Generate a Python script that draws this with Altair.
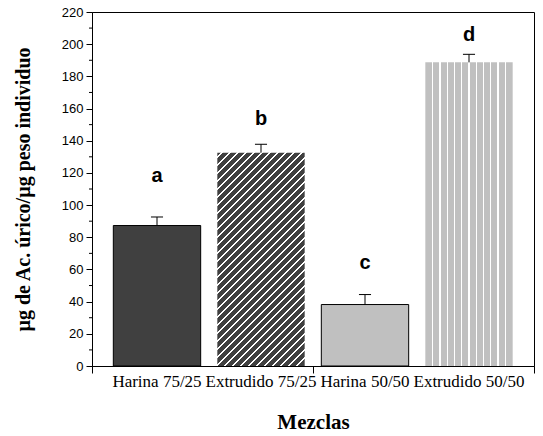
import altair as alt
import pandas as pd

# ---- data ----
categories = ["Harina 75/25", "Extrudido 75/25", "Harina 50/50", "Extrudido 50/50"]
positions = [1, 2, 3, 4]
means = [87.3, 132.6, 38.2, 188.7]
errors = [5.3, 5.2, 6.2, 5.0]
letters = ["a", "b", "c", "d"]
letter_heights = [118.0, 153.8, 64.0, 205.5]
y_major = list(range(0, 221, 20))
y_minor = list(range(10, 220, 20))
x_ticks = [0.375, 2.5, 4.625]

df = pd.DataFrame({
    "category": categories,
    "pos": positions,
    "mean": means,
    "err": errors,
    "letter": letters,
    "letter_y": letter_heights,
})

# ---- layout / style ----
PLOT_W, PLOT_H = 442, 354
X_DOM = [0.375, 4.625]
Y_DOM = [0, 220]
HALF = 0.42     # half bar width, x units
CAP = 0.058     # half cap width, x units
DARK = "#404040"
LIGHT = "#c0c0c0"

x_scale = alt.Scale(domain=X_DOM, nice=False, zero=False)
y_scale = alt.Scale(domain=Y_DOM, nice=False)

px_per_x = PLOT_W / (X_DOM[1] - X_DOM[0])
px_per_y = PLOT_H / (Y_DOM[1] - Y_DOM[0])

# diagonal stripes "/" for bar 2 (objectBoundingBox gradient)
W = 2 * HALF * px_per_x
H = means[1] * px_per_y
S = W + H
ex = W * S / (W * W + H * H)
ey = H * S / (W * W + H * H)
stops = [alt.GradientStop(color=DARK, offset=0)]
period, lw = 8.0, 1.6
c = 4.0
while c + lw < S:
    a, b = c / S, (c + lw) / S
    stops += [alt.GradientStop(color=DARK, offset=a), alt.GradientStop(color="white", offset=a),
              alt.GradientStop(color="white", offset=b), alt.GradientStop(color=DARK, offset=b)]
    c += period
stops.append(alt.GradientStop(color=DARK, offset=1))
diag_fill = alt.LinearGradient(gradient="linear", stops=stops, x1=0, y1=0, x2=ex, y2=ey)

# vertical stripes for bar 4
ncol = 12
vw = 1.3 / W
vstops = [alt.GradientStop(color=LIGHT, offset=0)]
for i in range(1, ncol):
    a, b = i / ncol - vw / 2, i / ncol + vw / 2
    vstops += [alt.GradientStop(color=LIGHT, offset=a), alt.GradientStop(color="white", offset=a),
               alt.GradientStop(color="white", offset=b), alt.GradientStop(color=LIGHT, offset=b)]
vstops.append(alt.GradientStop(color=LIGHT, offset=1))
vert_fill = alt.LinearGradient(gradient="linear", stops=vstops, x1=0, y1=0, x2=1, y2=0)

x_axis = alt.Axis(values=x_ticks, labels=False, tickSize=7, grid=False,
                  title="Mezclas", titleFont="Liberation Serif", titleFontSize=21,
                  titleFontWeight="bold", titleColor="black", titleY=62,
                  titleBaseline="alphabetic")
y_axis = alt.Axis(values=y_major, tickSize=6, grid=False, labelFont="Liberation Sans",
                  labelFontSize=13, labelPadding=3, labelColor="black",
                  title="µg de Ac. úrico/µg peso individuo", titleFont="Liberation Serif",
                  titleFontSize=20, titleFontWeight="bold", titleColor="black",
                  titleAngle=-90, titleX=-63, titleY=PLOT_H / 2, titleAlign="center",
                  titleBaseline="alphabetic")


def X(field):
    return alt.X(field, scale=x_scale, axis=x_axis)


def Y(field):
    return alt.Y(field, scale=y_scale, axis=y_axis)


base = alt.Chart(df).transform_calculate(
    x_lo=f"datum.pos - {HALF}", x_hi=f"datum.pos + {HALF}",
    top="datum.mean + datum.err",
    c_lo=f"datum.pos - {CAP}", c_hi=f"datum.pos + {CAP}",
)

fills = [DARK, diag_fill, LIGHT, vert_fill]
strokes = ["black", None, "black", None]
layers = []
for i, (f, s) in enumerate(zip(fills, strokes)):
    kw = {"fill": f}
    if s is not None:
        kw["stroke"] = s
        kw["strokeWidth"] = 1
    else:
        kw["strokeWidth"] = 0
    layers.append(
        base.transform_filter(f"datum.pos == {positions[i]}").mark_bar(**kw).encode(
            x=X("x_lo:Q"),
            x2="x_hi:Q",
            y=Y("mean:Q"),
            y2=alt.datum(0),
        )
    )

err_line = base.mark_rule(color="black", strokeWidth=1).encode(
    x=X("pos:Q"),
    y=Y("mean:Q"),
    y2="top:Q",
)
err_cap = base.mark_rule(color="black", strokeWidth=1).encode(
    x=X("c_lo:Q"),
    x2="c_hi:Q",
    y=Y("top:Q"),
)
letter_text = base.mark_text(font="Liberation Sans", fontSize=20, fontWeight="bold",
                             baseline="middle", color="black").encode(
    x=X("pos:Q"),
    y=Y("letter_y:Q"),
    text="letter:N",
)
cat_text = base.mark_text(font="Liberation Serif", fontSize=17, baseline="alphabetic",
                          color="black").encode(
    x=X("pos:Q"),
    y=alt.value(375),
    text="category:N",
)
minor = alt.Chart(pd.DataFrame({"v": y_minor})).mark_rule(color="black", strokeWidth=1).encode(
    y=Y("v:Q"),
    x=alt.value(-3),
    x2=alt.value(0),
)

chart = alt.layer(*layers, err_line, err_cap, letter_text, cat_text, minor).properties(
    width=PLOT_W, height=PLOT_H,
    padding={"left": 92, "top": 12, "right": 9, "bottom": 70},
    autosize=alt.AutoSizeParams(type="none"),
    background="white",
).configure_view(stroke="black", strokeWidth=1).configure_axis(
    domainColor="black", tickColor="black", domainWidth=1, tickWidth=1
)

chart.save("out.html", embed_options={"renderer": "svg", "actions": False})
